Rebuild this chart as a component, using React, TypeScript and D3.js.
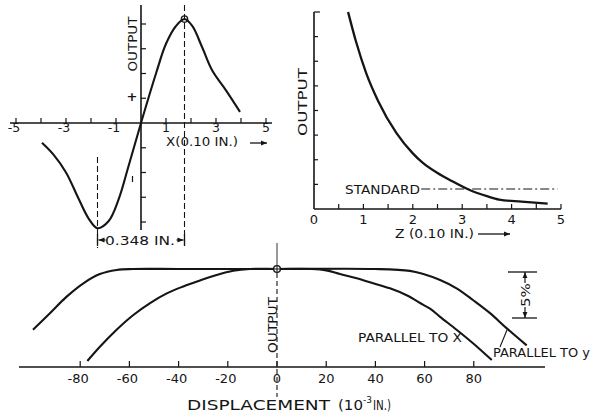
import React from 'react';
import * as d3 from 'd3';

// top left: output against lateral position X (0.10 in. units)
const lateralX = [-3.96, -3.5, -3.0, -2.5, -2.1, -1.74, -1.3, -0.9, -0.5, 0, 0.6, 1.0, 1.4, 1.74, 2.05, 2.45, 2.85, 3.4, 3.96];
const lateralOut = [-0.8, -1.28, -2.0, -3.05, -3.85, -4.25, -3.97, -3.1, -1.75, 0, 2.0, 3.2, 3.92, 4.2, 3.92, 3.05, 2.12, 1.32, 0.45];
const lateralTicks = [-5, -4, -3, -2, -1, 1, 2, 3, 4, 5];
const lateralLabels = [-5, -3, -1, 1, 3, 5];
const lateralOutTicks = [-4, -3, -2, -1, 1, 2, 3, 4];
const peakX = 1.74;

// top right: output against gap Z (0.10 in. units)
const gapZ = [0.69, 0.85, 1.06, 1.3, 1.67, 2.0, 2.21, 2.5, 2.75, 3.15, 3.5, 3.75, 4.2, 4.73];
const gapOut = [8.0, 6.8, 5.5, 4.38, 3.08, 2.26, 1.86, 1.46, 1.18, 0.77, 0.52, 0.38, 0.3, 0.22];
const gapTicks = [0.5, 1, 1.5, 2, 2.5, 3, 3.5, 4, 4.5, 5];
const gapLabels = [0, 1, 2, 3, 4, 5];
const gapOutTicks = [1, 2, 3, 4, 5, 6, 7, 8];
const standardLevel = 0.81;
const standardFrom = 2.17;
const standardTo = 4.93;

// bottom: output (%) against displacement (10^-3 in.)
const dispY = [-99.2, -92.3, -85.5, -78.7, -72, -65.2, -58.5, -40, 0, 40, 54, 59.5, 66.3, 73, 79.8, 86.6, 93.4, 101.5];
const outY = [93.4, 95.2, 97.0, 98.45, 99.45, 99.9, 100, 100, 100, 100, 99.8, 99.45, 98.8, 97.9, 96.6, 95.2, 93.55, 91.7];
const dispX = [-77.1, -72, -65.2, -58.4, -51.6, -44.8, -38.1, -31.3, -24.5, -17.8, -11, 0, 14, 20, 25.6, 32.4, 39.1, 45.9, 52.7, 59.5, 62.2, 66.3, 73, 79.8, 87.3];
const outX = [90.0, 91.55, 93.4, 95.0, 96.3, 97.35, 98.1, 98.75, 99.35, 99.8, 100, 100, 100, 99.85, 99.45, 99.0, 98.45, 97.9, 97.15, 96.1, 95.7, 94.8, 93.4, 91.9, 90.1];
const dispTicks = [-80, -60, -40, -20, 0, 20, 40, 60, 80];

const ink = '#151515';
const font = '"DejaVu Sans", sans-serif';

const App = () => {
  // scales
  const xA = d3.scaleLinear().domain([-5, 5]).range([16, 266]);
  const yA = d3.scaleLinear().domain([-4, 4]).range([222, 24]);
  const xB = d3.scaleLinear().domain([0, 5]).range([314, 561]);
  const yB = d3.scaleLinear().domain([0, 8]).range([209, 12]);
  const xC = d3.scaleLinear().domain([0, 20]).range([277, 326.2]);
  const yC = d3.scaleLinear().domain([95, 100]).range([315, 269]);

  const smooth = d3.curveCatmullRom.alpha(0.5);
  const lineA = d3.line<number>().x((d, i) => xA(lateralX[i])).y(d => yA(d)).curve(smooth);
  const lineB = d3.line<number>().x((d, i) => xB(gapZ[i])).y(d => yB(d)).curve(d3.curveMonotoneX);
  const lineCy = d3.line<number>().x((d, i) => xC(dispY[i])).y(d => yC(d)).curve(smooth);
  const lineCx = d3.line<number>().x((d, i) => xC(dispX[i])).y(d => yC(d)).curve(smooth);

  const axisC = 367;
  const bracketTop = yC(100) + 3;
  const bracketBot = bracketTop + (yC(95) - yC(100));

  return (
    <svg width={591} height={415} style={{ position: 'absolute', left: 0, top: 0, background: '#fff' }}
      fontFamily={font} fill={ink}>
      <defs>
        <marker id="ah" viewBox="0 0 10 10" refX="10" refY="5" markerWidth="7" markerHeight="6"
          orient="auto" markerUnits="userSpaceOnUse">
          <path d="M0,1 L10,5 L0,9 Z" fill={ink} />
        </marker>
      </defs>

      {/* ---------- top left panel ---------- */}
      <g>
        <line x1={10} x2={272} y1={yA(0)} y2={yA(0)} stroke={ink} strokeWidth={1.6} />
        {lateralTicks.map(t => (
          <line key={t} x1={xA(t)} x2={xA(t)} y1={yA(0)} y2={yA(0) - 5} stroke={ink} strokeWidth={1.2} />
        ))}
        {lateralLabels.map(t => (
          <text key={t} x={xA(t) + (t < 0 ? -2 : 0)} y={132} fontSize={12.5} textAnchor="middle">{t}</text>
        ))}
        <line x1={xA(0)} x2={xA(0)} y1={5} y2={230} stroke={ink} strokeWidth={1.6} />
        {lateralOutTicks.map(t => (
          <line key={t} x1={xA(0)} x2={xA(0) + 5} y1={yA(t)} y2={yA(t)} stroke={ink} strokeWidth={1.2} />
        ))}
        <text transform={`translate(137,44) rotate(-90)`} fontSize={12} textAnchor="middle"
          textLength={55} lengthAdjust="spacingAndGlyphs">OUTPUT</text>
        <text x={132} y={101} fontSize={13} textAnchor="middle" fontWeight="bold">+</text>
        <line x1={132.5} x2={132.5} y1={176} y2={182} stroke={ink} strokeWidth={1.2} />
        <text x={166} y={146} fontSize={11.5} textLength={72} lengthAdjust="spacingAndGlyphs">X(0.10 IN.)</text>
        <line x1={250} x2={267} y1={143} y2={143} stroke={ink} strokeWidth={1.3} markerEnd="url(#ah)" />

        {/* peak guide lines */}
        <line x1={xA(peakX)} x2={xA(peakX)} y1={5} y2={248} stroke={ink} strokeWidth={1.1} strokeDasharray="6,3" />
        <line x1={xA(-peakX)} x2={xA(-peakX)} y1={157} y2={248} stroke={ink} strokeWidth={1.1} strokeDasharray="6,3" />
        <path d={lineA(lateralOut) || ''} fill="none" stroke={ink} strokeWidth={2.1} />
        <circle cx={xA(peakX)} cy={yA(4.2)} r={3.2} fill="none" stroke={ink} strokeWidth={1.3} />
        <line x1={xA(-peakX)} x2={xA(-peakX)} y1={234} y2={246} stroke={ink} strokeWidth={1.3} />
        <line x1={xA(peakX)} x2={xA(peakX)} y1={234} y2={246} stroke={ink} strokeWidth={1.3} />
        <line x1={xA(-peakX) + 8} x2={xA(-peakX) + 1} y1={240} y2={240} stroke={ink} strokeWidth={1.2} markerEnd="url(#ah)" />
        <line x1={xA(peakX) - 8} x2={xA(peakX) - 1} y1={240} y2={240} stroke={ink} strokeWidth={1.2} markerEnd="url(#ah)" />
        <text x={(xA(-peakX) + xA(peakX)) / 2 - 1} y={245} fontSize={12.5} textAnchor="middle"
          textLength={70} lengthAdjust="spacingAndGlyphs">0.348 IN.</text>
      </g>

      {/* ---------- top right panel ---------- */}
      <g>
        <line x1={xB(0)} x2={xB(0)} y1={yB(8)} y2={yB(0)} stroke={ink} strokeWidth={1.6} />
        {gapOutTicks.map(t => (
          <line key={t} x1={xB(0)} x2={xB(0) + (t === 8 ? 6 : 4)} y1={yB(t)} y2={yB(t)} stroke={ink} strokeWidth={1.2} />
        ))}
        <line x1={xB(0)} x2={xB(5)} y1={yB(0)} y2={yB(0)} stroke={ink} strokeWidth={1.6} />
        {gapTicks.map(t => (
          <line key={t} x1={xB(t)} x2={xB(t)} y1={yB(0)} y2={yB(0) - 5} stroke={ink} strokeWidth={1.2} />
        ))}
        {gapLabels.map(t => (
          <text key={t} x={xB(t)} y={224} fontSize={13} textAnchor="middle">{t}</text>
        ))}
        <text transform={`translate(307,102) rotate(-90)`} fontSize={12.5} textAnchor="middle"
          textLength={68} lengthAdjust="spacingAndGlyphs">OUTPUT</text>
        <text x={395} y={238} fontSize={12.5} textLength={79} lengthAdjust="spacingAndGlyphs">Z  (0.10 IN.)</text>
        <line x1={478} x2={510} y1={234} y2={234} stroke={ink} strokeWidth={1.3} markerEnd="url(#ah)" />
        <line x1={xB(standardFrom)} x2={xB(standardTo)} y1={yB(standardLevel)} y2={yB(standardLevel)}
          stroke={ink} strokeWidth={1.1} strokeDasharray="9,3,2,3" />
        <text x={345} y={194} fontSize={12} textLength={75} lengthAdjust="spacingAndGlyphs">STANDARD</text>
        <path d={lineB(gapOut) || ''} fill="none" stroke={ink} strokeWidth={2.3} />
      </g>

      {/* ---------- bottom panel ---------- */}
      <g>
        <line x1={19} x2={545} y1={axisC} y2={axisC} stroke={ink} strokeWidth={1.6} />
        {dispTicks.map(t => (
          <line key={t} x1={xC(t)} x2={xC(t)} y1={axisC} y2={axisC - 6} stroke={ink} strokeWidth={1.2} />
        ))}
        {dispTicks.map(t => (
          <text key={t} x={xC(t) + (t < 0 ? -2 : 0)} y={383} fontSize={13} textAnchor="middle">{t}</text>
        ))}
        <line x1={xC(0)} x2={xC(0)} y1={243} y2={yC(100)} stroke="#555" strokeWidth={1.2} />
        <line x1={xC(0)} x2={xC(0)} y1={yC(100) + 4} y2={397} stroke={ink} strokeWidth={1.1} strokeDasharray="5,3" />
        <text transform={`translate(277,325) rotate(-90)`} fontSize={12} textAnchor="middle"
          textLength={56} lengthAdjust="spacingAndGlyphs">OUTPUT</text>

        <path d={lineCy(outY) || ''} fill="none" stroke={ink} strokeWidth={2.1} />
        <path d={lineCx(outX) || ''} fill="none" stroke={ink} strokeWidth={2.1} />
        <circle cx={xC(0)} cy={yC(100)} r={3.4} fill="#fff" stroke={ink} strokeWidth={1.4} />
        <line x1={xC(0) - 3.4} x2={xC(0) + 3.4} y1={yC(100)} y2={yC(100)} stroke={ink} strokeWidth={1} />
        <line x1={xC(0)} x2={xC(0)} y1={yC(100) - 3.4} y2={yC(100) + 3.4} stroke={ink} strokeWidth={1} />

        <text x={358} y={342} fontSize={11.5} textLength={104} lengthAdjust="spacingAndGlyphs">PARALLEL TO X</text>
        <text x={493} y={357} fontSize={11.5} textLength={97} lengthAdjust="spacingAndGlyphs">PARALLEL TO y</text>
        <line x1={500} x2={507} y1={347} y2={330} stroke={ink} strokeWidth={1.1} />

        {/* 5% bracket */}
        <line x1={508} x2={537} y1={bracketTop} y2={bracketTop} stroke={ink} strokeWidth={1.3} />
        <line x1={512} x2={537} y1={bracketBot} y2={bracketBot} stroke={ink} strokeWidth={1.3} />
        <line x1={525} x2={525} y1={bracketTop + 11} y2={bracketTop} stroke={ink} strokeWidth={1.2} markerEnd="url(#ah)" />
        <line x1={525} x2={525} y1={bracketBot - 11} y2={bracketBot} stroke={ink} strokeWidth={1.2} markerEnd="url(#ah)" />
        <text transform={`translate(530,${(bracketTop + bracketBot) / 2}) rotate(-90)`} fontSize={12}
          textAnchor="middle" textLength={24} lengthAdjust="spacingAndGlyphs">5%</text>

        <text x={187} y={410} fontSize={13.5} textLength={143} lengthAdjust="spacingAndGlyphs">DISPLACEMENT</text>
        <text x={338} y={410} fontSize={13.5} textLength={25} lengthAdjust="spacingAndGlyphs">(10</text>
        <text x={363} y={403} fontSize={9}>-3</text>
        <text x={373} y={410} fontSize={13.5} textLength={18} lengthAdjust="spacingAndGlyphs">IN.)</text>
      </g>
    </svg>
  );
};

export default App;
